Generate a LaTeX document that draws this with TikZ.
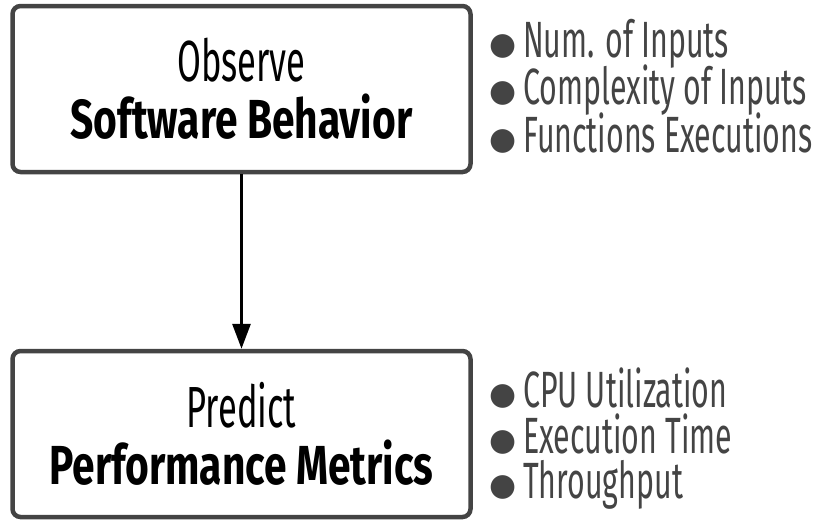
\documentclass[tikz,border=0pt]{standalone}
\usepackage{fontspec}
\usetikzlibrary{arrows.meta}
\setmainfont{Fira Sans}
\newfontfamily\thinfont{Fira Sans}[FakeStretch=0.595]
\newfontfamily\heavyfont{Fira Sans}[FakeStretch=0.74]
\newfontfamily\symfont{DejaVu Sans}
\definecolor{edgegray}{HTML}{444444}
\newcommand{\blt}{{\symfont\fontsize{31}{31}\selectfont\raisebox{3pt}{●}}\hspace{7pt}}
\newcommand{\tightlines}{\lineskiplimit-60pt\relax}

\begin{document}
\begin{tikzpicture}
	[x=1pt,y=-1pt,
	 stage/.style={draw=edgegray,line width=4.5pt,rounded corners=8pt,fill=white,
	   minimum width=458pt,minimum height=166pt,align=center,inner sep=0pt,
	   font={\fontsize{55}{57}\selectfont\tightlines}},
	 items/.style={anchor=west,align=left,inner sep=0pt,text=edgegray,
	   font={\thinfont\fontsize{51}{#1}\selectfont\tightlines}}]
    \useasboundingbox (0,0) rectangle (828,520);

    \node[stage] (observe) at (241.5,89)
      {{\thinfont\fontsize{58}{57}\selectfont Observe}\\
       {\heavyfont\bfseries Software Behavior}};
    \node[stage] (predict) at (241.5,434)
      {{\thinfont\fontsize{58}{57}\selectfont Predict}\\
       {\heavyfont\bfseries Performance Metrics}};

    \node[items=47.5] (inputs) at (489,86)
      {\blt Num. of Inputs\\ \blt Complexity of Inputs\\ \blt Functions Executions};
    \node[items=45.5] (metrics) at (489,439)
      {\blt CPU Utilization\\ \blt Execution Time\\ \blt Throughput};

    \draw[line width=3pt,-{Triangle[length=25pt,width=18pt]}] (observe) -- (predict);

\end{tikzpicture}
\end{document}
